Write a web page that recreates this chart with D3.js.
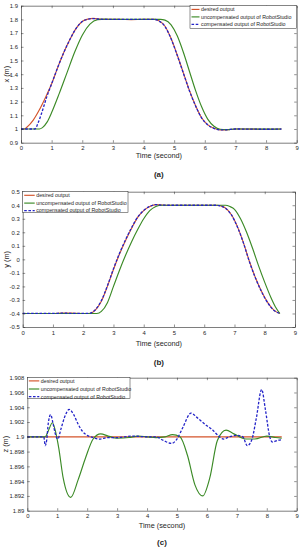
<!DOCTYPE html>
<html><head><meta charset="utf-8">
<script src="https://cdn.jsdelivr.net/npm/d3@7"></script>
<style>
html,body{margin:0;padding:0;background:#fff;}
svg{display:block;}
text{font-family:"Liberation Sans",Arial,sans-serif;fill:#262626;}
</style></head>
<body>
<svg id="c" width="302" height="550"></svg>
<script>
// ---------- DATA ----------
const xTicks = [0,1,2,3,4,5,6,7,8,9];
const xTickLabels = ["0","1","2","3","4","5","6","7","8","9"];
const seriesNames = ["desired output","uncompensated output of RobotStudio","compensated output of RobotStudio"];

// Panel (a): x (m)
const aYTicks = [0.9,1.0,1.1,1.2,1.3,1.4,1.5,1.6,1.7,1.8,1.9];
const aYTickLabels = ["0.9","1","1.1","1.2","1.3","1.4","1.5","1.6","1.7","1.8","1.9"];
const aDesiredT = [0,0.1,0.2,0.4,0.6,0.8,1.0,1.2,1.4,1.6,1.8,2.0,2.2,2.35,2.5,2.8,3.2,3.6,4.0,4.35,4.5,4.7,4.9,5.1,5.3,5.5,5.7,5.9,6.1,6.3,6.5,6.7,7.0,7.5,8.0,8.5];
const aDesiredV = [1.0,1.0,1.015,1.065,1.14,1.23,1.33,1.45,1.56,1.655,1.735,1.785,1.803,1.808,1.804,1.80,1.80,1.798,1.80,1.80,1.79,1.75,1.66,1.54,1.41,1.28,1.17,1.08,1.03,1.005,0.993,0.993,1.0,0.999,0.998,1.0];
const aUncompT = [0,0.6,0.7,0.85,1.0,1.25,1.5,1.75,2.0,2.25,2.5,2.75,3.0,3.5,4.0,4.55,4.7,4.9,5.1,5.3,5.5,5.7,5.9,6.1,6.3,6.5,6.7,7.0,7.5,8.0,8.5];
const aUncompV = [1.0,1.0,1.01,1.05,1.12,1.26,1.41,1.56,1.685,1.765,1.798,1.802,1.80,1.80,1.80,1.80,1.795,1.76,1.68,1.56,1.42,1.28,1.16,1.07,1.02,0.998,0.995,1.0,1.0,0.999,1.0];
const aCompT = [0,0.3,0.45,0.55,0.65,0.75,0.85,0.95,1.0,1.2,1.4,1.6,1.8,2.0,2.2,2.35,2.5,2.8,3.2,3.6,4.0,4.35,4.5,4.7,4.9,5.1,5.3,5.5,5.7,5.9,6.1,6.3,6.5,6.7,7.0,7.5,8.0,8.5];
const aCompV = [1.0,1.0,1.0,1.04,1.10,1.17,1.24,1.30,1.33,1.45,1.56,1.655,1.735,1.785,1.802,1.806,1.803,1.80,1.80,1.80,1.80,1.80,1.789,1.748,1.658,1.538,1.408,1.278,1.168,1.08,1.03,1.004,0.993,0.994,1.0,0.999,0.998,1.0];

// Panel (b): y (m)
const bYTicks = [-0.5,-0.4,-0.3,-0.2,-0.1,0,0.1,0.2,0.3,0.4,0.5];
const bYTickLabels = ["-0.5","-0.4","-0.3","-0.2","-0.1","0","0.1","0.2","0.3","0.4","0.5"];
const bDesiredT = [0,1.0,1.3,1.6,2.0,2.2,2.4,2.6,2.8,3.0,3.2,3.4,3.6,3.8,4.0,4.2,4.4,4.6,4.8,5.5,6.4,6.55,6.7,6.9,7.1,7.3,7.5,7.7,7.9,8.1,8.3,8.5];
const bDesiredV = [-0.4,-0.4,-0.397,-0.398,-0.4,-0.4,-0.375,-0.31,-0.2,-0.075,0.04,0.14,0.23,0.31,0.36,0.39,0.405,0.402,0.40,0.40,0.40,0.395,0.38,0.33,0.24,0.12,-0.02,-0.14,-0.24,-0.32,-0.375,-0.4];
const bUncompT = [0,1.0,2.0,2.45,2.6,2.8,3.0,3.2,3.4,3.6,3.8,4.0,4.2,4.4,4.6,5.5,6.7,6.85,7.0,7.2,7.4,7.6,7.8,8.0,8.2,8.35,8.5];
const bUncompV = [-0.4,-0.4,-0.4,-0.4,-0.385,-0.32,-0.2,-0.08,0.03,0.13,0.22,0.30,0.36,0.39,0.40,0.40,0.40,0.39,0.37,0.30,0.20,0.08,-0.05,-0.17,-0.28,-0.35,-0.4];
const bCompT = [0,1.0,1.3,1.6,2.0,2.2,2.4,2.6,2.8,3.0,3.2,3.4,3.6,3.8,4.0,4.2,4.4,4.6,4.8,5.5,6.4,6.55,6.7,6.9,7.1,7.3,7.5,7.7,7.9,8.1,8.3,8.5];
const bCompV = [-0.4,-0.4,-0.398,-0.399,-0.4,-0.399,-0.372,-0.305,-0.195,-0.07,0.045,0.145,0.235,0.312,0.362,0.392,0.404,0.401,0.40,0.40,0.40,0.394,0.378,0.328,0.238,0.118,-0.022,-0.142,-0.242,-0.322,-0.376,-0.4];

// Panel (c): z (m)
const cYTicks = [1.89,1.892,1.894,1.896,1.898,1.9,1.902,1.904,1.906,1.908];
const cYTickLabels = ["1.89","1.892","1.894","1.896","1.898","1.9","1.902","1.904","1.906","1.908"];
const cDesiredT = [0,8.5];
const cDesiredV = [1.9,1.9];
const cUncompT = [0,0.6,0.7,0.84,0.95,1.05,1.2,1.45,1.7,1.95,2.2,2.45,2.7,3.0,3.4,3.7,4.0,4.3,4.6,4.85,5.1,5.35,5.6,5.86,6.1,6.35,6.64,6.9,7.3,7.6,8.0,8.3,8.5];
const cUncompV = [1.9,1.9,1.9008,1.9019,1.9006,1.8985,1.8944,1.8918,1.8942,1.8972,1.8997,1.9004,1.9001,1.8998,1.8999,1.9001,1.9,1.8999,1.9,1.9003,1.9,1.8975,1.8935,1.892,1.8945,1.8995,1.9009,1.9004,1.8997,1.8997,1.9001,1.8999,1.8998];
const cCompT = [0,0.55,0.6,0.65,0.7,0.78,0.86,0.95,1.02,1.12,1.25,1.4,1.55,1.7,1.85,2.0,2.2,2.4,2.7,3.0,3.5,4.0,4.3,4.55,4.82,5.0,5.2,5.47,5.7,6.0,6.2,6.42,6.55,6.75,7.0,7.2,7.35,7.5,7.65,7.83,7.95,8.1,8.19,8.35,8.5];
const cCompV = [1.9,1.9,1.8988,1.8996,1.9018,1.903,1.9018,1.9002,1.8997,1.901,1.9027,1.9037,1.903,1.9017,1.9007,1.9002,1.8999,1.8997,1.8999,1.8999,1.9001,1.9,1.9,1.8995,1.8991,1.8997,1.9013,1.9032,1.9025,1.9015,1.9009,1.9,1.8997,1.9,1.9002,1.9,1.8988,1.8996,1.9025,1.9064,1.9038,1.9,1.8993,1.8995,1.8996];

// ---------- DRAW ----------
const colors = ["#d4532a","#3b8a26","#2323c8"];
const svg = d3.select("#c");

function panel(cfg){
  const x = d3.scaleLinear().domain([0,9]).range([cfg.l,cfg.r]);
  const y = d3.scaleLinear().domain(cfg.yDomain).range([cfg.b,cfg.t]);
  const g = svg.append("g");
  g.append("rect").attr("x",cfg.l).attr("y",cfg.t).attr("width",cfg.r-cfg.l).attr("height",cfg.b-cfg.t).attr("fill","#fff");

  const line = d3.line().x(d=>x(d[0])).y(d=>y(d[1])).curve(d3.curveMonotoneX);
  cfg.series.forEach((s,i)=>{
    const pts = s.t.map((t,k)=>[t,s.v[k]]);
    g.append("path").attr("d",line(pts)).attr("fill","none")
      .attr("stroke",colors[i]).attr("stroke-width", i===2?1.3:1.15)
      .attr("stroke-dasharray", i===2?"2.6,1.6":null);
  });

  const fmtX = d=>xTickLabels[xTicks.indexOf(d)];
  const fmtY = d=>cfg.yLabels[cfg.yTicks.indexOf(d)];
  const axStyle = sel=>{
    sel.selectAll("path.domain").attr("stroke","#262626").attr("stroke-width",0.6);
    sel.selectAll(".tick line").attr("stroke","#262626").attr("stroke-width",0.5);
    sel.selectAll("text").attr("font-size","5.9px").attr("font-family","Liberation Sans, Arial, sans-serif").attr("fill","#262626");
  };
  g.append("g").attr("transform",`translate(0,${cfg.b})`)
    .call(d3.axisBottom(x).tickValues(xTicks).tickFormat(fmtX).tickSizeInner(-2.5).tickSizeOuter(0).tickPadding(3.5)).call(axStyle);
  g.append("g").attr("transform",`translate(0,${cfg.t})`)
    .call(d3.axisTop(x).tickValues(xTicks).tickFormat("").tickSizeInner(-2.5).tickSizeOuter(0)).call(axStyle);
  g.append("g").attr("transform",`translate(${cfg.l},0)`)
    .call(d3.axisLeft(y).tickValues(cfg.yTicks).tickFormat(fmtY).tickSizeInner(-2.5).tickSizeOuter(0).tickPadding(3)).call(axStyle);
  g.append("g").attr("transform",`translate(${cfg.r},0)`)
    .call(d3.axisRight(y).tickValues(cfg.yTicks).tickFormat("").tickSizeInner(-2.5).tickSizeOuter(0)).call(axStyle);

  const cx = (cfg.l+cfg.r)/2;
  g.append("text").attr("x",cx).attr("y",cfg.xTitleY).attr("text-anchor","middle").attr("font-size","7.3px").text("Time (second)");
  g.append("text").attr("transform",`translate(${cfg.yTitleX},${(cfg.t+cfg.b)/2}) rotate(-90)`).attr("text-anchor","middle").attr("font-size","7.3px").text(cfg.yTitle);
  g.append("text").attr("x",cx).attr("y",cfg.capY).attr("text-anchor","middle")
    .attr("font-family","Liberation Serif, Times New Roman, serif").attr("font-weight","bold").attr("font-size","8px").attr("fill","#111").text(cfg.cap);

  const L = cfg.legend;
  g.append("rect").attr("x",L.x).attr("y",L.y).attr("width",L.w).attr("height",L.h)
    .attr("fill","#fff").attr("stroke","#262626").attr("stroke-width",0.5);
  seriesNames.forEach((n,i)=>{
    const yy = L.y + L.rows[i];
    g.append("line").attr("x1",L.x+1.5).attr("x2",L.x+L.sw).attr("y1",yy).attr("y2",yy)
      .attr("stroke",colors[i]).attr("stroke-width",i===2?1.3:1.15).attr("stroke-dasharray",i===2?"2.6,1.6":null);
    g.append("text").attr("x",L.x+L.sw+1.5).attr("y",yy).attr("dy","0.35em").attr("font-size","5.3px").text(n);
  });
}

panel({l:21,r:296.7,t:5.7,b:142.7,yDomain:[0.9,1.9],yTicks:aYTicks,yLabels:aYTickLabels,
  series:[{t:aDesiredT,v:aDesiredV},{t:aUncompT,v:aUncompV},{t:aCompT,v:aCompV}],
  xTitleY:158,yTitleX:9,yTitle:"x (m)",capY:177,cap:"(a)",
  legend:{x:190,y:5.7,w:106.7,h:23,sw:9.5,rows:[3.7,11.2,18.7]}});

panel({l:22.7,r:295,t:191.7,b:327,yDomain:[-0.5,0.5],yTicks:bYTicks,yLabels:bYTickLabels,
  series:[{t:bDesiredT,v:bDesiredV},{t:bUncompT,v:bUncompV},{t:bCompT,v:bCompV}],
  xTitleY:345.5,yTitleX:9,yTitle:"y (m)",capY:365,cap:"(b)",
  legend:{x:22.7,y:191.7,w:105.3,h:20.6,sw:12,rows:[3.6,11.4,18.9]}});

panel({l:27.3,r:296.7,t:377.7,b:510.7,yDomain:[1.89,1.908],yTicks:cYTicks,yLabels:cYTickLabels,
  series:[{t:cDesiredT,v:cDesiredV},{t:cUncompT,v:cUncompV},{t:cCompT,v:cCompV}],
  xTitleY:528,yTitleX:8,yTitle:"z (m)",capY:545,cap:"(c)",
  legend:{x:27.3,y:377.7,w:102.7,h:20.6,sw:12,rows:[3.2,11.3,19]}});
</script>
</body></html>
